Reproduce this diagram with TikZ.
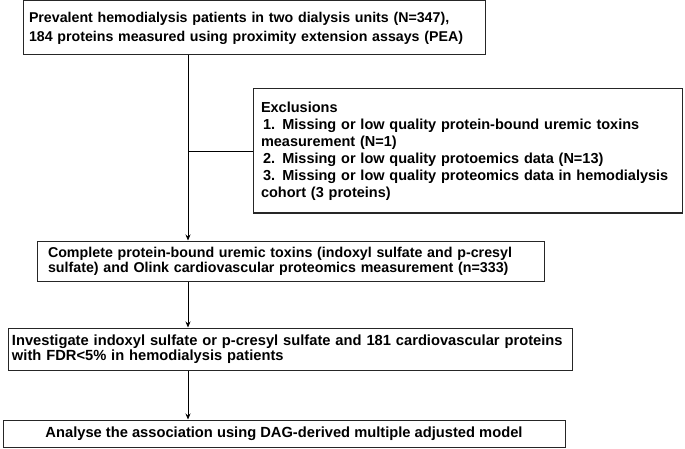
\documentclass[tikz,border=0pt]{standalone}
\usepackage{fontspec}
\setmainfont{Liberation Sans}
\usetikzlibrary{arrows.meta}
\begin{document}
\begin{tikzpicture}[x=1pt,y=-1pt,
  box/.style={draw=black!85, line width=1pt, inner sep=0pt, font=\bfseries},
  conn/.style={draw=black, line width=0.8pt},
  arr/.style={conn, -{Stealth[length=6pt,width=5pt]}}]
\useasboundingbox (0,0) rectangle (685,449);
\node[box, minimum width=462pt, minimum height=54pt, text width=450pt, align=left,
  font=\bfseries\fontsize{14.2}{19}\selectfont] (b1) at (254,28)
  {Prevalent hemodialysis patients in two dialysis units (N=347),\\184 proteins measured using proximity extension assays (PEA)};
\node[box, minimum width=429pt, minimum height=124pt, text width=413pt, align=left,
  font=\bfseries\fontsize{14.5}{17}\selectfont] (ex) at (467.5,151)
  {Exclusions\\
   \hspace*{2pt}1. Missing or low quality protein-bound uremic toxins\\measurement (N=1)\\
   \hspace*{2pt}2. Missing or low quality protoemics data (N=13)\\
   \hspace*{2pt}3. Missing or low quality proteomics data in hemodialysis\\cohort (3 proteins)};
\node[box, minimum width=507pt, minimum height=40pt, text width=485pt, align=left,
  font=\bfseries\fontsize{14.25}{15}\selectfont] (b2) at (290.5,261)
  {Complete protein-bound uremic toxins (indoxyl sulfate and p-cresyl\\sulfate) and Olink cardiovascular proteomics measurement (n=333)};
\node[box, minimum width=564pt, minimum height=42pt, text width=556pt, align=left,
  font=\bfseries\fontsize{14.7}{14.5}\selectfont] (b3) at (290,349)
  {Investigate indoxyl sulfate or p-cresyl sulfate and 181 cardiovascular proteins\\with FDR<5\% in hemodialysis patients};
\node[box, minimum width=562pt, minimum height=27pt, align=center,
  font=\bfseries\fontsize{14.7}{15}\selectfont] (b4) at (284,433.5)
  {Analyse the association using DAG-derived multiple adjusted model};
\coordinate (ax) at (188,0);
\draw[arr] (b1.south -| ax) -- (b2.north -| ax);
\draw[conn] (ex.west) -- (ex.west -| ax);
\draw[arr] (b2.south -| ax) -- (b3.north -| ax);
\draw[arr] (b3.south -| ax) -- (b4.north -| ax);
\end{tikzpicture}
\end{document}
